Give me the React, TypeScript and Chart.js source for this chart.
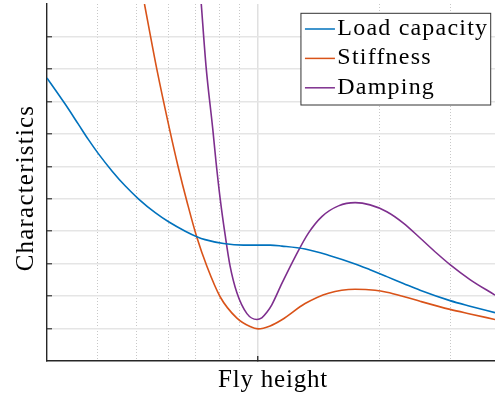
import { useEffect, useRef } from 'react';
import { Chart, registerables } from 'chart.js';

Chart.register(...registerables);

// Axis limits (fly height on a log axis, characteristics on a linear one)
const X_MIN = 0.3;
const X_MAX = 3.86;
const Y_MIN = 0;
const Y_MAX = 11;

// Grid positions along the log axis: minor decades plus the major line at 1
const xGridValues = [0.3, 0.4, 0.5, 0.6, 0.7, 0.8, 0.9, 1, 2, 3];

const seriesNames = ['Load capacity', 'Stiffness', 'Damping'];
const seriesColors = ['#0072BD', '#D95319', '#7E2F8E'];

const xTitle = 'Fly height';
const yTitle = 'Characteristics';

// Load capacity
const loadX = [0.30, 0.333, 0.359, 0.380, 0.402, 0.435, 0.469, 0.506, 0.556, 0.600, 0.660, 0.705, 0.739, 0.821, 0.920, 0.983, 1.071, 1.145, 1.307, 1.493, 1.739, 1.893, 2.083, 2.289, 2.518, 2.987, 3.347, 3.861];
const loadY = [8.72, 7.91, 7.29, 6.82, 6.39, 5.85, 5.39, 4.99, 4.57, 4.29, 4.00, 3.83, 3.74, 3.62, 3.57, 3.57, 3.57, 3.54, 3.45, 3.26, 2.99, 2.81, 2.60, 2.39, 2.18, 1.86, 1.69, 1.49];

// Stiffness
const stiffX = [0.523, 0.561, 0.603, 0.633, 0.669, 0.705, 0.747, 0.805, 0.886, 0.955, 1.0, 1.071, 1.145, 1.307, 1.493, 1.739, 1.948, 2.083, 2.289, 2.518, 2.987, 3.347, 3.861];
const stiffY = [11.0, 9.0, 7.16, 6.01, 4.83, 3.81, 2.91, 1.98, 1.32, 1.06, 0.99, 1.08, 1.27, 1.77, 2.09, 2.21, 2.18, 2.12, 1.99, 1.84, 1.59, 1.45, 1.28];

// Damping
const dampX = [0.723, 0.743, 0.772, 0.787, 0.805, 0.829, 0.852, 0.886, 0.938, 0.993, 1.021, 1.051, 1.081, 1.145, 1.235, 1.332, 1.438, 1.581, 1.739, 1.893, 2.083, 2.289, 2.518, 2.769, 2.987, 3.347, 3.861];
const dampY = [11.0, 9.08, 7.15, 6.1, 5.02, 3.86, 2.93, 2.10, 1.46, 1.28, 1.33, 1.50, 1.73, 2.39, 3.21, 3.94, 4.45, 4.78, 4.88, 4.81, 4.60, 4.25, 3.79, 3.32, 2.97, 2.51, 2.03];

const serifFont = '"Liberation Serif", "Times New Roman", serif';
const axisColor = '#262626';

const toPoints = (xs: number[], ys: number[]) => xs.map((x, i) => ({ x, y: ys[i] }));

// Draws the axis titles and the boxed legend in the upper-right corner
const framePlugin = {
  id: 'frameText',
  afterDraw(chart: any) {
    const { ctx, chartArea: a } = chart;
    ctx.save();
    ctx.fillStyle = '#000';
    ctx.font = `25px ${serifFont}`;
    ctx.textBaseline = 'alphabetic';

    // x-axis title
    ctx.letterSpacing = '0.8px';
    ctx.textAlign = 'center';
    ctx.fillText(xTitle, (a.left + a.right) / 2 + 2, a.bottom + 25.7);

    // y-axis title
    ctx.save();
    ctx.translate(33.3, (a.top + a.bottom) / 2 + 5.5);
    ctx.rotate(-Math.PI / 2);
    ctx.letterSpacing = '1.2px';
    ctx.fillText(yTitle, 0, 0);
    ctx.restore();

    // legend
    ctx.font = `24px ${serifFont}`;
    ctx.letterSpacing = '1.2px';
    ctx.textAlign = 'left';
    const datasets = chart.data.datasets;
    let maxW = 0;
    datasets.forEach((d: any) => {
      maxW = Math.max(maxW, ctx.measureText(d.label).width);
    });
    const right = a.right - 4.3;
    const top = a.top + 9.3;
    const rowH = 29.4;
    const boxW = 4 + 30 + 2.4 + maxW + 2.5;
    const boxH = 91.7;
    const left = right - boxW;
    ctx.fillStyle = '#fff';
    ctx.fillRect(left, top, boxW, boxH);
    ctx.strokeStyle = '#333';
    ctx.lineWidth = 1;
    ctx.strokeRect(left, top, boxW, boxH);
    datasets.forEach((d: any, i: number) => {
      const cy = top + 15.7 + i * rowH;
      ctx.strokeStyle = d.borderColor;
      ctx.lineWidth = 1.5;
      ctx.beginPath();
      ctx.moveTo(left + 4, cy);
      ctx.lineTo(left + 34, cy);
      ctx.stroke();
      ctx.fillStyle = '#000';
      ctx.fillText(d.label, left + 36.4, cy + 6);
    });
    ctx.restore();
  },
};

export default function App() {
  const canvasRef = useRef<HTMLCanvasElement | null>(null);

  useEffect(() => {
    const canvas = canvasRef.current;
    if (!canvas) return;

    const series = [toPoints(loadX, loadY), toPoints(stiffX, stiffY), toPoints(dampX, dampY)];

    const chart = new Chart(canvas, {
      type: 'line',
      data: {
        datasets: series.map((data, i) => ({
          label: seriesNames[i],
          data,
          borderColor: seriesColors[i],
          backgroundColor: seriesColors[i],
          borderWidth: 1.6,
          pointRadius: 0,
          fill: false,
          cubicInterpolationMode: 'monotone' as const,
        })),
      },
      options: {
        responsive: false,
        animation: false,
        devicePixelRatio: 1,
        layout: { padding: { top: 4, right: 0, left: 0, bottom: 0 } },
        plugins: {
          legend: { display: false },
          tooltip: { enabled: false },
        },
        scales: {
          x: {
            type: 'logarithmic',
            min: X_MIN,
            max: X_MAX,
            bounds: 'data',
            afterBuildTicks: (s: any) => {
              s.ticks = xGridValues.map((value) => ({ value }));
            },
            afterFit: (s: any) => {
              s.height = 35;
            },
            ticks: { display: false },
            grid: {
              color: (c: any) =>
                c.tick && c.tick.value === X_MIN ? 'transparent' : c.tick && c.tick.value === 1 ? '#e0e0e0' : '#c8c8c8',
              lineWidth: (c: any) => (c.tick && c.tick.value === 1 ? 1.5 : 1),
              tickLength: -5,
              tickWidth: 1.3,
              tickColor: (c: any) => (c.tick && c.tick.value === 1 ? axisColor : 'transparent'),
            },
            border: {
              display: true,
              color: axisColor,
              width: 1.4,
              dash: (c: any) => (c.tick && c.tick.value !== 1 ? [1, 2] : []),
            },
          },
          y: {
            type: 'linear',
            min: Y_MIN,
            max: Y_MAX,
            afterFit: (s: any) => {
              s.width = 47;
            },
            ticks: { display: false, stepSize: 1 },
            grid: {
              color: (c: any) =>
                c.tick && (c.tick.value === Y_MIN || c.tick.value === Y_MAX) ? 'transparent' : '#e5e5e5',
              lineWidth: 1.5,
              tickLength: -5,
              tickWidth: 1.3,
              tickColor: (c: any) =>
                c.tick && (c.tick.value === Y_MIN || c.tick.value === Y_MAX) ? 'transparent' : '#444',
            },
            border: { display: true, color: axisColor, width: 1.4 },
          },
        },
      },
      plugins: [framePlugin],
    });

    return () => chart.destroy();
  }, []);

  return (
    <div style={{ position: 'fixed', left: 0, top: 0, width: 495, height: 396, background: '#fff' }}>
      <canvas ref={canvasRef} width={495} height={396} style={{ display: 'block' }} />
    </div>
  );
}
